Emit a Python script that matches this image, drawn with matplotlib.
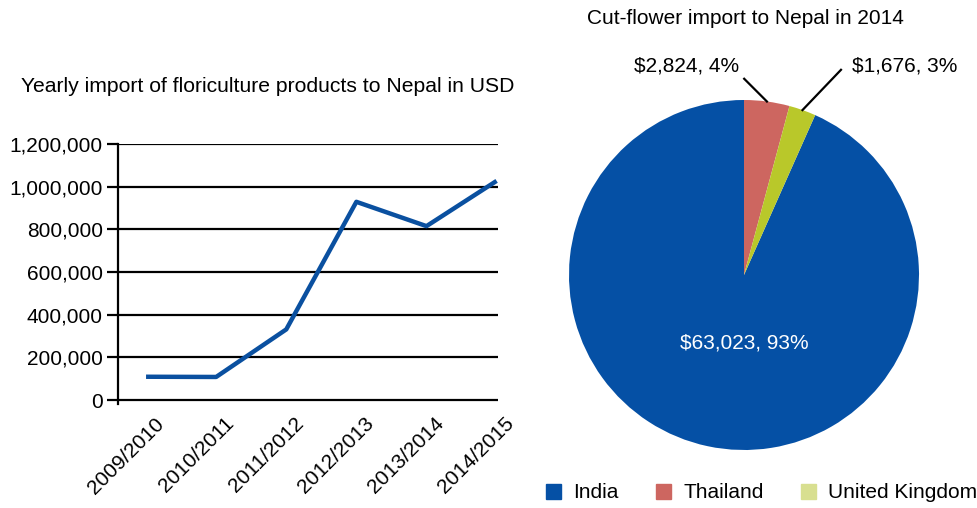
import matplotlib.pyplot as plt
import matplotlib.transforms as mtransforms
from matplotlib.patches import Patch
import numpy as np

plt.rcParams['font.family'] = ['Liberation Sans', 'DejaVu Sans']
plt.rcParams['font.size'] = 15

# datos de la linea
years = ['2009/2010', '2010/2011', '2011/2012', '2012/2013', '2013/2014', '2014/2015']
imports = [109000, 108000, 331000, 929000, 815000, 1027000]

# datos del pastel
countries = ['India', 'Thailand', 'United Kingdom']
values = [63023, 2824, 1676]
pct_labels = [93, 4, 3]  # porcentajes tal como aparecen en el grafico
wedge_colors = ['#0550A5', '#CD6660', '#B9C82A']
legend_colors = ['#0550A5', '#CD6660', '#D8DF90']

blue = '#0A50A0'

fig = plt.figure(figsize=(9.77, 5.08), dpi=100)

# ---- grafico de linea ----
ymin = -20000
h_px = 256 * (1200000 - ymin) / 1200000
ax = fig.add_axes([118 / 977, 1 - (144 + h_px) / 508, 380 / 977, h_px / 508])
ax.plot(range(len(years)), imports, color=blue, linewidth=3.2, solid_capstyle='butt')
ax.set_ylim(ymin, 1200000)
ax.set_xlim(-0.4, 5.02)
ax.set_yticks(np.arange(0, 1200001, 200000))
ax.set_yticklabels([f'{v:,}' for v in range(0, 1200001, 200000)])
ax.yaxis.grid(True, color='black', linewidth=1.6)
ax.set_axisbelow(True)
for s in ['top', 'right', 'bottom']:
    ax.spines[s].set_visible(False)
ax.spines['left'].set_linewidth(1.6)
ax.tick_params(axis='y', length=8, width=1.6, pad=3)
ax.tick_params(axis='x', length=0, pad=7)
ax.set_xticks(range(len(years)))
ax.set_xticklabels(years, rotation=45, ha='right', rotation_mode='anchor')
offset = mtransforms.ScaledTranslation(0.08, 0, fig.dpi_scale_trans)
for lbl in ax.get_xticklabels():
    lbl.set_transform(lbl.get_transform() + offset)
fig.text(268 / 977, 1 - 87 / 508, 'Yearly import of floriculture products to Nepal in USD',
         ha='center', va='center', fontsize=15.2)

# ---- grafico de pastel ----
axp = fig.add_axes([569 / 977, 1 - 450 / 508, 350 / 977, 350 / 508])
total = sum(values)
start = 90 + 360 * values[0] / total
wedges, _ = axp.pie(values, colors=wedge_colors, startangle=start, counterclock=False,
                    radius=1)
axp.set_xlim(-1, 1)
axp.set_ylim(-1, 1)
axp.set_aspect('equal')

axp.text(0, -0.39, f'${values[0]:,}, {pct_labels[0]}%', color='white', ha='center', va='center')

# etiquetas externas con lineas guia
offsets = {1: (-0.13, 0.13), 2: (0.22, 0.23)}
label_pos = {1: (-0.33, 1.194), 2: (0.92, 1.194)}
for i in [1, 2]:
    w = wedges[i]
    mid = np.deg2rad((w.theta1 + w.theta2) / 2)
    x0, y0 = np.cos(mid), np.sin(mid)
    dx, dy = offsets[i]
    axp.plot([x0, x0 + dx], [y0, y0 + dy], color='black', linewidth=1.6, clip_on=False)
    lx, ly = label_pos[i]
    axp.text(lx, ly, f'${values[i]:,}, {pct_labels[i]}%', ha='center', va='center', clip_on=False)

fig.text(745 / 977, 1 - 18 / 508, 'Cut-flower import to Nepal in 2014', ha='center', va='center')

handles = [Patch(color=c) for c in legend_colors]
fig.legend(handles, countries, loc='center', bbox_to_anchor=(762 / 977, 1 - 493 / 508),
           ncol=3, frameon=False, handlelength=0.7, handleheight=0.7, handletextpad=0.6,
           columnspacing=1.8, borderaxespad=0, borderpad=0)

fig.savefig('out.png', dpi=100)
